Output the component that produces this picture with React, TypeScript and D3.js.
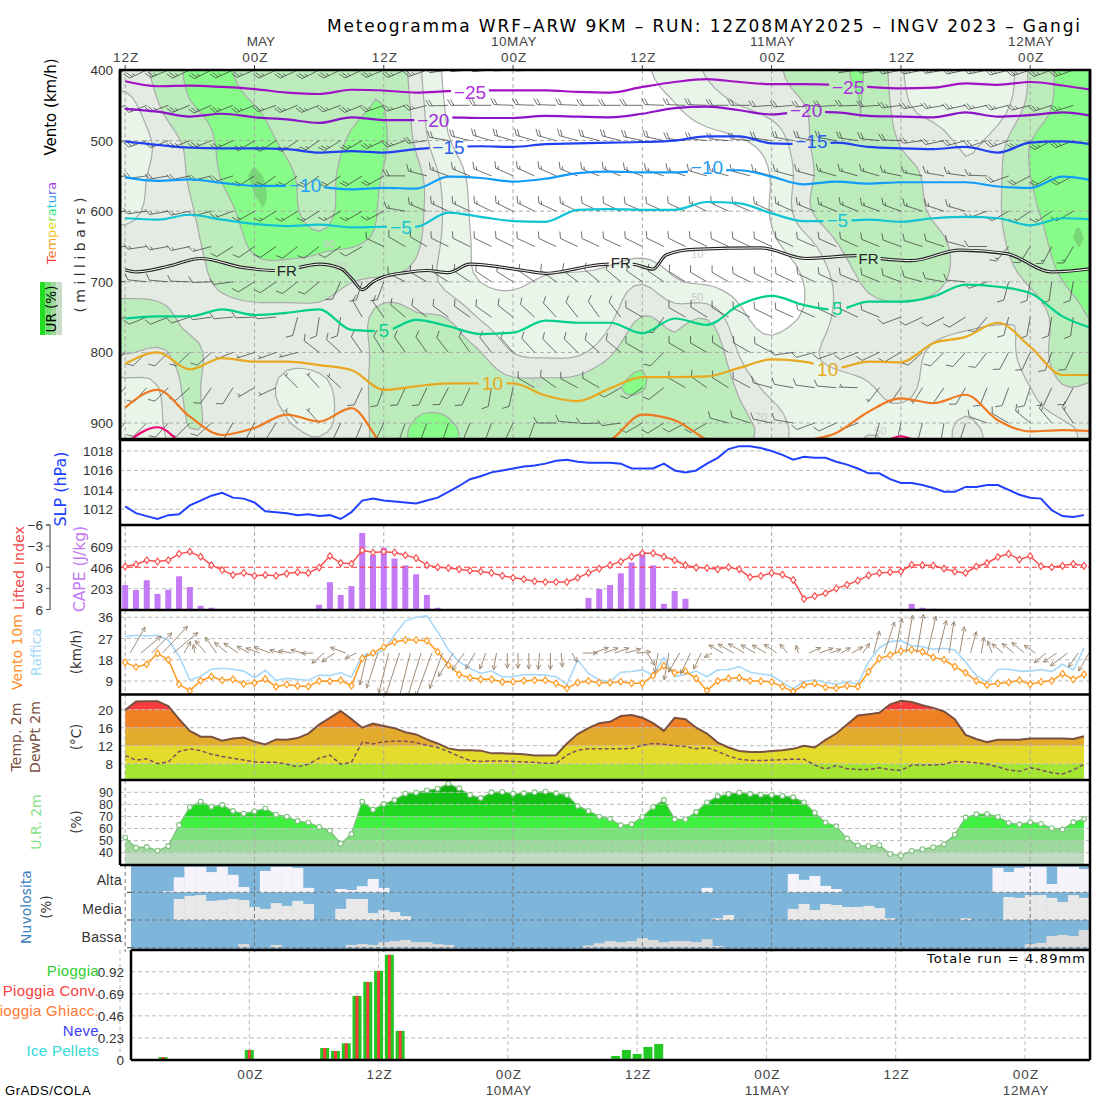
// App.tsx - WRF-ARW meteogram, Gangi
import React from 'react';
import * as d3 from 'd3';

const hours = d3.range(90);
const dayHours = [0, 12, 24, 36, 48, 60, 72, 84];
const topTickLabels = ['12Z', '00Z', '12Z', '00Z', '12Z', '00Z', '12Z', '00Z'];
const dateLabels: [number, string][] = [[36, '10MAY'], [60, '11MAY'], [84, '12MAY']];

// relative humidity cross section, one column every 3 hours
const rhTimes = d3.range(0, 93, 3);
const rhLevels = [400, 450, 500, 550, 600, 650, 700, 750, 800, 850, 900, 925];
const rhRows = [
  [58,70,96,94,75,78,78,65,94,55,20,20,20,20,20,20,28,40,55,72,60,78,86,94,45,40,38,25,72,95,95],
  [38,66,92,94,90,78,72,80,95,60,22,20,20,20,20,20,22,27,38,52,60,62,78,95,50,42,30,30,72,95,95],
  [35,50,68,95,96,84,70,95,96,62,25,22,22,25,32,32,30,26,24,24,35,65,80,94,58,62,45,58,96,96,94],
  [42,55,66,94,99,94,78,99,86,78,40,22,20,20,20,22,22,20,20,20,25,60,76,80,75,62,48,60,92,96,96],
  [42,55,62,80,99,94,75,99,85,74,45,20,18,18,20,20,20,20,20,20,28,70,80,80,78,60,56,62,86,97,95],
  [58,60,62,72,95,96,94,94,85,73,42,25,18,18,18,18,18,18,18,20,26,36,66,80,80,76,58,62,75,99,96],
  [55,55,58,72,80,76,76,60,58,62,38,25,25,35,35,38,58,26,20,20,20,26,52,72,78,72,60,60,68,92,95],
  [78,78,58,56,56,58,60,60,74,66,74,45,40,38,38,42,72,60,78,30,22,26,56,58,58,58,55,52,45,75,94],
  [72,62,76,58,58,55,58,58,72,68,72,72,42,42,40,58,94,60,95,42,32,50,58,60,58,45,42,42,58,76,80],
  [40,42,78,46,58,42,42,58,74,76,76,76,76,78,78,94,95,78,94,62,42,42,42,46,58,44,44,44,46,72,60],
  [45,42,75,58,58,52,42,58,72,95,94,76,76,74,76,76,74,76,76,74,60,42,42,48,44,44,55,44,44,44,58],
  [44,42,66,58,58,55,50,58,72,95,95,76,76,76,76,76,60,76,76,72,58,42,42,55,46,40,58,44,44,44,56],
];
const rhBands: [number, string][] = [[30, '#e9f5e9'], [50, '#e3ebe3'], [66, '#bcecbc'], [88, '#88fc88'], [96.5, '#78d878']];
const rhLabels: [number, number, string][] = [[18.9, 646, '90'], [20, 678, '70'], [53.1, 661, '10'], [53.1, 722, '50'], [38.1, 843, '70'], [59, 892, '70'], [70.1, 912, '50']];

// isotherms, hPa every 3 hours
const isoMinus25 = [416,423,422,424,427,432,434,428,429,432,430,429,429,429,431,432,424,417,413,417,420,420,421,424,426,425,419,421,417,422,429];
const isoMinus20 = [455,459,466,462,467,470,475,467,471,471,467,468,468,465,466,467,462,454,452,457,463,459,460,465,466,467,460,466,464,460,466];
const isoMinus15 = [501,506,510,511,511,512,517,515,517,512,509,508,509,505,504,503,502,500,494,494,504,505,503,509,511,512,509,517,503,501,506];
const isoMinus10 = [552,557,555,560,564,564,566,569,567,568,551,553,558,554,546,544,545,545,542,542,551,562,558,561,559,559,559,565,567,551,557];
const isoMinus5 = [610,612,605,612,618,621,619,623,622,622,602,608,614,615,598,597,598,598,587,589,603,614,614,612,615,610,608,610,620,610,612];
const isoPlus5 = [752,749,749,739,747,744,739,768,770,754,763,774,772,755,758,758,773,752,761,733,720,733,740,728,728,721,704,707,716,749,767];
const isoPlus10 = [816,800,824,808,813,813,818,825,853,848,844,844,844,861,869,851,835,835,834,822,810,813,822,813,814,787,778,758,792,832,832];
const isoPlus15 = [878,853,891,917,907,888,898,879,933,952,952,952,952,952,933,924,888,896,924,943,943,926,914,884,865,872,860,896,912,910,912];
const isoPlus20 = [930,906,940,960,960,960,960,960,960,960,960,960,960,960,960,960,960,960,960,960,960,960,960,940,919,940,960,960,960,960,960];
const frTimes = [0,1,4,7,11,14,16,18,20,21,22,23,24,26,28,30,32,37,39,42,43,45,47,49,50.2,52.8,59,63.2,67.8,70,73,77.5,81.8,86,90];
const frLevels = [683,686,678,667,680,684,680,675,681,695,711,700,693,687,684,687,675,684,688,681,678,675,675,682,662,654,652,667,663,667,670,655,660,686,681];

const isotherms: [number[], string][] = [
  [isoMinus25, '#a012c4'], [isoMinus20, '#8c14c8'], [isoMinus15, '#2040f0'], [isoMinus10, '#109cf8'], [isoMinus5, '#10c4d4'],
  [isoPlus5, '#00d08c'], [isoPlus10, '#e8a820'], [isoPlus15, '#f07820'], [isoPlus20, '#f00a78'],
];
const isoLabels: [number, number, string, string][] = [
  [32, 431, '−25', '#b030e0'], [67.1, 424, '−25', '#b030e0'], [28.6, 471, '−20', '#a030d8'], [63.2, 457, '−20', '#a030d8'],
  [30, 509, '−15', '#2860f0'], [63.7, 500, '−15', '#2860f0'], [16.7, 563, '−10', '#20a0f8'], [54, 538, '−10', '#20a0f8'],
  [25.6, 622, '−5', '#18c4d4'], [66.1, 613, '−5', '#18c4d4'], [24, 768, '5', '#10d090'], [66.1, 737, '5', '#10d090'],
  [34.1, 843, '10', '#e8a820'], [65.2, 824, '10', '#e8a820'], [15, 684, 'FR', '#222'], [46, 674, 'FR', '#222'], [69, 667, 'FR', '#222'],
];

// wind barbs: one column every 2 hours, direction in degrees, speed in half feathers
const barbTimes = d3.range(0, 90, 2);
const barbLevels = [400, 450, 500, 550, 600, 650, 700, 750, 800, 850, 900];
const barbDirs = [
  [245,245,247,245,243,245,247,245,245,243,245,245,247,247,250,262,265,265,267,267,268,270,270,270,272,270,270,268,268,270,272,272,270,268,262,260,258,258,260,258,258,255,252,250,250],
  [248,248,250,248,246,248,248,250,248,248,250,248,250,252,255,268,270,270,272,272,272,272,270,270,270,272,272,272,270,270,266,265,265,266,268,266,262,260,260,258,258,256,255,252,252],
  [250,250,248,248,248,245,238,236,235,235,238,240,245,250,262,280,284,286,286,286,285,285,284,284,282,282,276,276,275,275,278,280,280,280,278,276,272,262,258,255,252,250,245,242,248],
  [262,262,260,258,256,252,238,235,235,235,236,238,240,270,285,290,292,292,294,294,294,292,292,292,290,288,288,286,286,285,285,285,285,286,286,286,282,280,280,278,272,250,242,240,242],
  [262,262,260,258,255,250,240,238,238,238,240,240,242,280,292,295,295,296,296,296,295,295,295,295,294,294,295,295,295,294,294,294,292,292,292,290,290,288,288,286,250,240,235,235,240],
  [265,262,260,258,255,238,235,235,232,232,235,240,295,300,300,296,296,296,296,295,295,295,295,295,296,296,296,296,295,295,295,295,294,294,294,292,290,288,288,285,270,220,212,208,210],
  [278,276,275,272,268,262,238,235,232,230,205,198,200,296,300,302,304,304,302,305,306,308,310,310,305,304,302,300,300,296,296,295,295,294,292,292,290,285,280,275,250,195,190,188,190],
  [250,248,248,252,262,265,268,265,195,188,190,330,325,310,308,306,305,305,308,312,318,322,325,322,300,215,300,302,300,298,296,294,294,295,295,292,250,245,242,238,220,195,190,190,188],
  [228,226,225,225,228,248,252,250,255,308,312,325,328,325,325,322,325,322,320,318,315,315,312,310,300,225,300,300,302,300,298,262,255,250,248,245,240,228,225,222,218,208,205,200,205],
  [225,222,225,228,215,212,240,245,315,318,312,205,200,205,205,208,205,190,192,300,305,298,300,240,235,232,300,305,302,298,285,280,278,275,272,218,215,212,215,210,202,200,198,205,208],
  [225,225,222,225,228,210,208,212,315,318,205,202,205,200,200,198,202,200,205,200,270,275,268,262,240,238,242,240,285,288,282,280,250,245,248,195,192,195,190,198,290,300,310,320,325],
];
const barbSpeeds = [
  [5,5,5,5,5,5,5,5,5,5,5,5,5,5,5,5,5,5,5,5,5,5,5,5,5,5,5,5,5,5,5,5,5,5,5,5,5,5,5,5,5,5,5,5,5],
  [5,5,5,5,5,5,5,5,5,5,5,5,5,5,5,4,4,4,4,4,4,4,4,4,4,4,4,4,4,4,4,4,4,4,4,4,5,5,5,5,5,5,5,5,5],
  [5,5,5,5,5,5,5,5,5,5,5,5,5,5,4,4,4,4,4,4,4,4,4,4,4,4,4,4,4,4,4,4,4,4,4,4,4,4,4,4,4,5,5,5,5],
  [4,4,4,4,4,4,4,4,4,4,4,4,4,4,3,3,3,3,3,3,3,3,3,3,3,3,3,3,3,3,3,3,3,3,3,3,3,3,3,3,3,4,4,4,4],
  [3,3,3,3,3,3,3,3,3,3,3,3,3,3,3,3,3,3,3,3,3,3,2,2,2,2,2,3,3,3,3,3,3,3,3,3,3,3,3,3,3,3,3,3,3],
  [3,3,3,3,3,2,2,2,2,2,2,2,2,2,2,2,2,2,2,2,2,2,2,2,2,2,2,2,2,2,2,2,2,2,2,2,2,2,2,2,2,3,3,3,3],
  [2,2,2,2,2,2,2,2,2,2,2,2,2,2,2,2,2,2,2,2,2,2,2,2,2,2,2,2,2,2,2,2,2,2,2,2,2,2,2,2,2,2,2,2,2],
  [2,2,2,2,2,2,2,2,2,2,2,2,2,2,2,2,2,2,2,2,2,2,2,2,2,2,2,2,2,2,2,2,2,2,2,2,2,2,2,2,2,2,2,2,2],
  [2,2,2,2,2,1,1,1,1,2,2,2,2,2,2,2,2,2,2,2,2,2,2,2,2,2,2,2,2,2,2,2,2,2,2,2,2,2,2,2,2,2,2,2,2],
  [2,2,2,2,2,2,1,1,1,1,1,2,2,2,2,2,2,2,2,2,2,2,2,2,2,2,2,2,2,2,2,2,2,2,1,1,1,1,2,2,2,2,2,2,2],
  [2,2,2,2,2,2,2,2,1,1,2,2,2,2,2,2,2,2,2,2,2,2,2,2,2,2,2,2,2,2,2,2,2,2,1,2,2,2,2,2,2,2,3,3,3],
];

const slp = [1012.3,1011.6,1011.3,1011.0,1011.4,1011.5,1012.4,1012.9,1013.4,1013.7,1013.2,1013.1,1012.7,1011.8,1011.7,1011.6,1011.4,1011.5,1011.3,1011.4,1011.0,1011.7,1012.9,1013.1,1012.9,1012.8,1012.7,1012.6,1012.9,1013.2,1013.8,1014.4,1015.1,1015.4,1015.8,1016.0,1016.2,1016.4,1016.5,1016.7,
  1017.0,1017.1,1016.9,1016.8,1016.8,1016.8,1016.7,1016.2,1016.2,1016.2,1016.7,1016.0,1015.8,1016.0,1016.7,1017.3,1018.2,1018.5,1018.5,1018.3,1018.0,1017.6,1017.1,1017.4,1017.3,1017.3,1016.9,1016.6,1016.2,1015.7,1015.7,1015.1,1014.7,1014.7,1014.5,1014.2,1013.8,1013.8,1014.3,1014.3,1014.5,1014.5,1014.0,1013.5,1013.2,1013.1,1011.9,1011.3,1011.2,1011.4];
const liftedIndex = [-0.1,-0.4,-1.0,-0.8,-1.0,-1.9,-2.2,-1.5,-0.3,0.4,1.1,0.8,1.2,1.1,1.2,0.9,0.7,0.8,0.05,-1.6,-0.6,-0.5,-2.4,-2.1,-2.2,-2.1,-1.7,-1.3,-0.3,0,0.1,0.3,0.5,0.6,0.8,1.2,1.5,1.7,2.0,2.1,
  2.1,2.1,1.5,0.8,0.2,-0.3,-0.8,-1.5,-2.0,-2.0,-1.5,-1.0,-0.3,0.05,0.1,0.3,0,0.3,1.4,1.25,0.8,1.05,1.8,4.5,4.1,3.7,3.0,2.5,1.9,1.15,0.8,0.7,0.6,-0.35,-0.3,-0.25,0.2,0.6,0.8,-0.1,-0.6,-1.45,-1.9,-1.1,-1.6,-0.15,0,-0.2,-0.5,-0.2];
const cape = [238,190,285,152,193,323,219,38,19,0,0,0,0,0,0,0,0,0,48,266,143,228,742,529,599,494,428,342,143,19,0,0,0,0,0,0,0,0,0,0,
  0,0,10,114,200,238,352,457,561,428,57,181,105,0,0,0,0,0,0,0,0,0,0,0,0,0,0,0,0,0,0,0,0,57,19,10,0,0,0,0,0,0,0,0,0,0,0,0,0,0];
const wind10m = [16.9,14.9,16.1,20.7,18,7.6,4.8,9.1,10.9,9.3,9.7,7.7,8.2,9.8,6.6,7.5,6.9,6.7,9,8.9,9.3,7,18.6,20.9,23.4,25.5,26.4,26.4,26.1,21.4,15.8,11.8,10.4,9.7,9.7,8.6,8.7,9.1,9.3,9.3,
  8,5.9,8.3,9,8.3,8.3,8.7,8,8,11.3,15.5,12.5,13.1,10.1,4.9,9,10.1,10.4,9.1,8.9,8.6,6.6,4.5,7.3,8,6.3,5.9,7,6.6,12.9,18.5,20,21.7,22.2,21.4,19,18,15.1,12.5,9.1,7.3,8,8.4,9.3,7.6,8.6,9.1,12.1,9.7,11.8];
const gust = [27.8,28.4,28.1,28.4,26.3,19.6,9.4,10.9,14,14.4,14,13.2,10.4,13.5,9.3,10.1,9.7,9.3,11.5,11.3,12.5,10.7,20,20,22.1,28.5,34.4,36,36.6,29.9,22.1,17.1,14.3,12.2,13.2,10.8,10.8,11.7,11.7,11.5,
  10.8,7.6,17.9,12.2,9.4,8.7,12.7,13,13.7,11.5,18.9,10.8,11.8,13.2,10.8,13.7,13.9,15.1,12.7,12,11.3,8.4,5.6,8.9,9.4,8.4,7.6,8.7,7.6,17.2,23.1,25.7,26.1,24,23.5,22.4,22.9,22.1,17.2,11.3,8.7,14,14,13.2,13.2,13.9,13,16.1,13.7,22.9];
const windHeading = [30,50,45,43,50,30,350,320,325,310,305,300,290,290,285,280,285,268,230,236,290,245,193,198,194,198,194,197,200,200,213,215,210,200,190,180,180,180,185,180,
  175,150,90,70,70,70,75,85,150,190,190,210,205,205,240,300,300,300,300,300,305,320,345,65,70,70,60,60,35,15,18,11,10,10,13,14,9,10,15,10,340,310,310,310,305,230,235,233,215,210];
const temp2m = [19.9,21.8,21.9,21.9,20.8,17.9,15.3,14.0,14.0,13.1,13.6,13.8,12.9,12.3,13.4,13.3,13.7,14.7,16.7,18.2,19.7,17.9,16,16.9,16.4,15.9,15,14.5,13.4,12.5,11.4,11,11,10.9,10.3,10.3,10.2,10.1,9.8,9.8,
  9.9,12.5,14.6,15.9,17,17.3,18.6,18.8,18.2,17,15.3,18.2,17.9,16,14.7,12.7,11.6,10.8,10.6,10.6,10.8,11,11.3,12,11.6,13.3,14.7,16.7,18.7,19,19.3,21.2,22,21.7,21,20.4,19.6,17.9,14.4,13.5,12.8,13.3,13.3,13.3,13.6,13.6,13.6,13.6,13.5,14.1];
const dewPoint = [9.8,8.8,9.1,8,8.4,10.7,11.3,10.9,10.1,9.6,9.2,8.8,8.4,8.3,8.3,7.9,7.3,7.9,9.2,9.9,7.9,8.3,12.8,12.4,12.9,13,13,12.7,12.1,11.6,10.7,9.6,8.7,8.5,8.6,8.6,8.5,8.4,8.3,8.1,
  8.1,9.9,11,11.3,11.3,11.3,11.3,11.4,12.1,12.5,12.3,12,11.8,11.3,11.6,10.7,9.7,9,8.7,8.7,8.8,8.9,9,9,7.7,6.8,7.6,6.9,6.7,6.7,7.1,6.7,6.5,7.7,7.7,7.7,7.9,8.5,8.4,8.2,7.9,7.3,6.6,6.3,7.1,6.6,6,5.7,6.6,7.9];
const rh2m = [52.7,44.1,44.7,41.7,45.5,62.9,77.8,82.3,78.1,79.5,74.5,72.3,74.2,76.7,71.5,69.8,66.2,64.9,61.3,58.2,47.5,55.5,82.3,75.6,80.3,83.6,88.9,89.7,91.6,93,97.2,93.3,87.8,85.3,90,90.3,88.9,89.2,90,90.6,
  89.2,87.8,78.7,74.6,69.9,68,62.7,63.5,69.6,77.9,83.6,67.6,67.6,73.7,81.7,86.7,88.6,89.7,88.6,88,87.8,87,85.9,81.7,73.1,64.9,61.9,51.7,45.9,45.4,46.2,39,37.6,41.5,42.9,44.5,47,55,69.1,71.8,72.1,69.6,64.7,63.3,65.2,63.9,60.3,59.2,65.2,67.9];

const tempBands: [number, number, string][] = [[0, 8, '#a4e632'], [8, 12, '#e4dc2c'], [12, 16, '#e4ac2c'], [16, 20, '#f08024'], [20, 30, '#fa3c3c']];
const rhFillBands: [number, number, string][] = [[30, 40, '#c0dcc0'], [40, 50, '#9fd89f'], [50, 60, '#7be27b'], [60, 70, '#40f040'], [70, 80, '#20d820'], [80, 90, '#14c014'], [90, 100, '#0fae0f']];

// clouds, percent per hour
const altaHours = [4,5,6,7,8,9,10,11,13,14,15,16,17,20,21,22,23,24,54,62,63,64,65,66,81,82,83,84,85,86,87,88,89];
const altaCloud = [4,54,92,92,73,92,63,19,77,92,92,88,16,12,8,22,48,16,16,66,45,59,23,12,88,73,88,92,92,30,92,92,84];
const mediaHours = [5,6,7,8,9,10,11,12,13,14,15,16,17,20,21,22,23,24,25,26,55,56,62,63,64,65,66,67,68,69,70,71,78,82,83,84,85,86,87,88,89];
const mediaCloud = [76,87,90,69,72,76,72,47,40,61,51,69,58,40,76,76,25,36,29,14,6,18,40,58,36,58,54,47,47,51,43,6,6,83,80,90,90,80,65,90,80];
const bassaHours = [11,14,21,22,23,24,25,26,27,28,29,30,43,44,45,46,47,48,49,50,51,52,53,54,55,84,85,86,87,88,89];
const bassaCloud = [13,10,10,13,10,20,24,28,20,20,13,10,8,16,24,20,24,35,28,20,24,24,20,31,6,13,17,42,46,42,64];

// rain, mm per hour
const rainHours = [4,11,12,18,19,20,21,22,23,24,25,26,46,47,48,49,50,84];
const rainTotal = [0.03,0,0.105,0,0.125,0.094,0.174,0.668,0.814,0.929,1.096,0.303,0.042,0.104,0.063,0.136,0.167,0];
const rainConv = [0.03,0.01,0.105,0.01,0.125,0.094,0.174,0.668,0.814,0.929,1.096,0.303,0,0,0,0.01,0,0.01];

const MONO = 'Liberation Sans';
const WIDE = 'DejaVu Sans';
const left = 120;
const right = 1090;

const x = d3.scaleLinear().domain([0, 84]).range([125.2, 1030.2]);
const xRain = d3.scaleLinear().domain([0, 84]).range([120, 1025]);
const yP = d3.scaleLinear().domain([400, 900]).range([70, 423]);
const ySlp = d3.scaleLinear().domain([1012, 1018]).range([509.3, 451]);
const yLi = d3.scaleLinear().domain([-6, 6]).range([525, 609.5]);
const yCape = d3.scaleLinear().domain([0, 609]).range([609.7, 546.7]);
const yWind = d3.scaleLinear().domain([9, 36]).range([681, 617.3]);
const yTemp = d3.scaleLinear().domain([8, 20]).range([763.7, 709.7]);
const yRh = d3.scaleLinear().domain([40, 90]).range([852.7, 792.3]);
const yRain = d3.scaleLinear().domain([0, 0.92]).range([1060, 971.7]);

const Vtext = ({ x: tx, y, size = 15, fill = '#222', family = WIDE, children }: any) => (
  <text transform={`translate(${tx},${y}) rotate(-90)`} textAnchor="middle" fontSize={size} fill={fill} fontFamily={family}>{children}</text>
);

const HGrid = ({ ys, x0 = left, color = '#bbb' }: any) => (
  <g stroke={color} strokeWidth={1} strokeDasharray="4 3">
    {ys.map((y: number) => <line key={y} x1={x0} x2={right} y1={y} y2={y} />)}
  </g>
);

const VGrid = ({ y0, y1, scale = x, color = '#aaa' }: any) => (
  <g stroke={color} strokeWidth={1} strokeDasharray="4 3">
    {dayHours.map((t) => <line key={t} x1={scale(t)} x2={scale(t)} y1={y0} y2={y1} />)}
  </g>
);

const Barb = ({ t, p, dir, speed }: any) => {
  const px = x(t);
  const py = yP(p);
  const rad = (dir * Math.PI) / 180;
  const feather = ((dir + 60) * Math.PI) / 180;
  const ex = px + Math.sin(rad) * 19;
  const ey = py - Math.cos(rad) * 19;
  let d = `M${px},${py}L${ex},${ey}`;
  let along = 0;
  for (let i = 0; i < Math.floor(speed / 2); i++, along += 3) {
    const bx = ex - Math.sin(rad) * along;
    const by = ey + Math.cos(rad) * along;
    d += `M${bx},${by}l${Math.sin(feather) * 7},${-Math.cos(feather) * 7}`;
  }
  if (speed % 2) {
    const bx = ex - Math.sin(rad) * (along + (along ? 0 : 3));
    const by = ey + Math.cos(rad) * (along + (along ? 0 : 3));
    d += `M${bx},${by}l${Math.sin(feather) * 3.5},${-Math.cos(feather) * 3.5}`;
  }
  return <path d={d} />;
};

const Arrow = ({ t, heading, speed }: any) => {
  const x0 = x(t) + 5;
  const y0 = 653;
  const len = speed * 1.77;
  const rad = (heading * Math.PI) / 180;
  const x1 = x0 + Math.sin(rad) * len;
  const y1 = y0 - Math.cos(rad) * len;
  const wing = (a: number) => `M${x1},${y1}l${-Math.sin(rad + a) * 5},${Math.cos(rad + a) * 5}`;
  return <path d={`M${x0},${y0}L${x1},${y1}${wing(0.45)}${wing(-0.45)}`} />;
};

const CloudBars = ({ hrs, vals, base, fill }: any) => (
  <g fill={fill}>
    {hrs.map((t: number, i: number) => {
      const h = (vals[i] * 27.7) / 100;
      return <rect key={t} x={x(t - 0.5)} y={base - h} width={x(1) - x(0) + 0.3} height={h} />;
    })}
  </g>
);

// finer copy of the humidity grid, only so the contour edges come out round
const FINE = 4;
function fineGrid() {
  const cols = rhTimes.length;
  const rows = rhLevels.length;
  const nx = (cols - 1) * FINE + 1;
  const ny = (rows - 1) * FINE + 1;
  const data = new Float64Array(nx * ny);
  for (let j = 0; j < ny; j++) {
    const r = Math.min(Math.floor(j / FINE), rows - 2);
    const v = j / FINE - r;
    for (let i = 0; i < nx; i++) {
      const c = Math.min(Math.floor(i / FINE), cols - 2);
      const u = i / FINE - c;
      data[j * nx + i] = (1 - v) * ((1 - u) * rhRows[r][c] + u * rhRows[r][c + 1]) + v * ((1 - u) * rhRows[r + 1][c] + u * rhRows[r + 1][c + 1]);
    }
  }
  d3.blur2({ data, width: nx, height: ny }, 1);
  return { data, nx, ny };
}

export default function App() {
  const rowToP = d3.scaleLinear().domain(d3.range(rhLevels.length)).range(rhLevels);
  const colToT = d3.scaleLinear().domain([0, rhTimes.length - 1]).range([rhTimes[0], rhTimes[rhTimes.length - 1]]);
  const gridPath = d3.geoPath(d3.geoTransform({
    point(gx: number, gy: number) {
      const col = (gx - 0.5) / FINE;
      const row = (gy - 0.5) / FINE;
      (this as any).stream.point(col < 0 ? x(-6) : x(colToT(col)), row < 0 ? yP(380) : yP(rowToP(row)));
    },
  }));
  const fine = fineGrid();
  const contourGen = d3.contours().size([fine.nx, fine.ny]);
  const rhShapes = rhBands.map(([level, color]) => ({ level, color, d: gridPath(contourGen.contour(fine.data as any, level)) || '' }));

  const isoLine = d3.line<number>().x((_, i) => x(rhTimes[i])).y((p) => yP(p)).curve(d3.curveMonotoneX);
  const frLine = d3.line<number>().x((_, i) => x(frTimes[i])).y((p) => yP(p)).curve(d3.curveMonotoneX);

  const hourLine = (values: number[], scale: any) => d3.line<number>().x((t) => x(t)).y((t) => scale(values[t]))(hours) || '';
  const hourArea = (values: number[], scale: any, y0: number) => d3.area<number>().x((t) => x(t)).y0(y0).y1((t) => scale(values[t]))(hours) || '';
  const diamond = d3.symbol().type(d3.symbolDiamond).size(20)() || '';

  const tempWord = ['#f04040', '#f87030', '#f8a020', '#f0c820', '#d8e020', '#80e040', '#30e080', '#20d0d0', '#30a0f0', '#6060f0', '#a040e0'];

  return (
    <svg width={1100} height={1100} style={{ position: 'absolute', left: 0, top: 0, background: '#fff' }}>
      <defs>
        <clipPath id="topClip"><rect x={left} y={70} width={right - left} height={369} /></clipPath>
        <clipPath id="windClip"><rect x={left} y={610} width={right - left} height={84} /></clipPath>
        <clipPath id="cloudClip"><rect x={131} y={865} width={right - 131} height={84} /></clipPath>
        <clipPath id="tempClip"><path d={hourArea(temp2m, yTemp, 779)} /></clipPath>
        <clipPath id="rhClip"><path d={hourArea(rh2m, yRh, 865)} /></clipPath>
        <mask id="isoGap" maskUnits="userSpaceOnUse" x={left} y={70} width={right - left} height={369}>
          <rect x={left} y={70} width={right - left} height={369} fill="#fff" />
          {isoLabels.map(([t, p, label], i) => {
            const w = label === 'FR' ? 24 : label.length * 10 + 8;
            return <rect key={i} x={x(t) - w / 2} y={yP(p) - 10} width={w} height={20} fill="#000" />;
          })}
        </mask>
      </defs>

      <text x={327} y={32} fontSize={17} fontFamily={WIDE} fill="#000" textLength={753} lengthAdjust="spacing">Meteogramma WRF–ARW 9KM – RUN: 12Z08MAY2025 – INGV 2023 – Gangi</text>

      {dayHours.map((t, i) => (
        <g key={t}>
          <line x1={x(t)} x2={x(t)} y1={65} y2={70} stroke="#444" />
          <text x={x(t) + 1} y={62} textAnchor="middle" fontSize={13.5} fill="#444" fontFamily={MONO} letterSpacing={1}>{topTickLabels[i]}</text>
          {t > 0 && <text x={xRain(t) + 1} y={1079} textAnchor="middle" fontSize={13.5} fill="#444" fontFamily={MONO} letterSpacing={1}>{topTickLabels[i]}</text>}
        </g>
      ))}
      <text x={261} y={46} textAnchor="middle" fontSize={13.5} fill="#444" fontFamily={MONO}>MAY</text>
      {dateLabels.map(([t, label]) => (
        <g key={label}>
          <text x={x(t) + 1} y={46} textAnchor="middle" fontSize={13.5} fill="#444" fontFamily={MONO} letterSpacing={0.6}>{label}</text>
          <text x={xRain(t) + 1} y={1095} textAnchor="middle" fontSize={13.5} fill="#444" fontFamily={MONO} letterSpacing={0.6}>{label}</text>
        </g>
      ))}

      {/* humidity, temperature and wind cross section */}
      <g clipPath="url(#topClip)">
        {rhShapes.map((s) => <path key={s.level} d={s.d} fill={s.color} />)}
        {rhShapes.filter((s) => s.level < 96).map((s) => <path key={s.level} d={s.d} fill="none" stroke="#aaa" strokeWidth={1.2} />)}
        {rhLabels.map(([t, p, label], i) => <text key={i} x={x(t)} y={yP(p) + 4} textAnchor="middle" fontSize={11} fill="#ccc" fontFamily={MONO}>{label}</text>)}
        <HGrid ys={[500, 600, 700, 800, 900].map((p) => yP(p))} color="#aaa" />
        <VGrid y0={70} y1={439} />
        <g stroke="#333" strokeWidth={0.7} fill="none">
          {barbLevels.map((p, r) => barbTimes.map((t, c) => (
            <Barb key={`${p}-${t}`} t={t} p={p} dir={barbDirs[r][c]} speed={barbSpeeds[r][c]} />
          )))}
        </g>
        <g mask="url(#isoGap)" fill="none">
          {isotherms.map(([values, color]) => <path key={color} d={isoLine(values) || ''} stroke={color} strokeWidth={2.2} />)}
          <path d={frLine(frLevels) || ''} stroke="#222" strokeWidth={3.2} />
          <path d={frLine(frLevels) || ''} stroke="#fff" strokeWidth={1} />
        </g>
        {isoLabels.map(([t, p, label, color], i) => (
          <text key={i} x={x(t)} y={yP(p) + (label === 'FR' ? 5 : 7)} textAnchor="middle" fontSize={label === 'FR' ? 15 : 19} fill={color} fontFamily={MONO}>{label}</text>
        ))}
      </g>
      {[400, 500, 600, 700, 800, 900].map((p) => (
        <text key={p} x={113} y={yP(p) + 5} textAnchor="end" fontSize={13.5} fill="#333" fontFamily={MONO}>{p}</text>
      ))}

      {/* sea level pressure */}
      <HGrid ys={[1012, 1014, 1016, 1018].map((v) => ySlp(v))} />
      <path d={hourLine(slp, ySlp)} fill="none" stroke="#2040ff" strokeWidth={2} />
      {[1012, 1014, 1016, 1018].map((v) => (
        <text key={v} x={113} y={ySlp(v) + 5} textAnchor="end" fontSize={13.5} fill="#333" fontFamily={MONO}>{v}</text>
      ))}

      {/* lifted index and CAPE */}
      <HGrid ys={[203, 609].map((v) => yCape(v))} />
      <VGrid y0={525} y1={610} />
      <g fill="#c479f5">
        {hours.filter((t) => cape[t] > 0).map((t) => (
          <rect key={t} x={x(t) - 3} y={yCape(cape[t])} width={6} height={yCape(0) - yCape(cape[t])} />
        ))}
      </g>
      <line x1={left} x2={right} y1={yLi(0)} y2={yLi(0)} stroke="#ff3030" strokeWidth={1.2} strokeDasharray="5 3" />
      <path d={hourLine(liftedIndex, yLi)} fill="none" stroke="#f85050" strokeWidth={1.5} />
      {hours.map((t) => (
        <path key={t} d={diamond} transform={`translate(${x(t)},${yLi(liftedIndex[t])}) scale(1.05,0.8)`} fill="#fff" stroke="#f85050" strokeWidth={1.2} />
      ))}
      {[203, 406, 609].map((v) => (
        <text key={v} x={113} y={yCape(v) + 5} textAnchor="end" fontSize={13.5} fill="#333" fontFamily={MONO}>{v}</text>
      ))}
      <path d="M46,525H50V609.5H46" fill="none" stroke="#555" strokeWidth={1.2} />
      {[-6, -3, 0, 3, 6].map((v) => (
        <g key={v}>
          <line x1={46} x2={50} y1={yLi(v)} y2={yLi(v)} stroke="#555" />
          <text x={43} y={yLi(v) + 5} textAnchor="end" fontSize={13.5} fill="#333" fontFamily={MONO}>{v < 0 ? `−${-v}` : v}</text>
        </g>
      ))}

      {/* 10m wind and gust */}
      <HGrid ys={[9, 18, 27, 36].map((v) => yWind(v))} />
      <VGrid y0={610} y1={694} />
      <g clipPath="url(#windClip)">
        <path d={hourLine(gust, yWind)} fill="none" stroke="#a8d8f8" strokeWidth={1.6} />
        <path d={hourLine(wind10m, yWind)} fill="none" stroke="#ff9a20" strokeWidth={1.5} />
        {hours.map((t) => (
          <path key={t} d={diamond} transform={`translate(${x(t)},${yWind(wind10m[t])}) scale(1.05,0.8)`} fill="#fff" stroke="#ff9a20" strokeWidth={1.2} />
        ))}
        <g stroke="#a08c78" strokeWidth={1} fill="none">
          {hours.map((t) => <Arrow key={t} t={t} heading={windHeading[t]} speed={wind10m[t]} />)}
        </g>
      </g>
      {[9, 18, 27, 36].map((v) => (
        <text key={v} x={113} y={yWind(v) + 5} textAnchor="end" fontSize={13.5} fill="#333" fontFamily={MONO}>{v}</text>
      ))}

      {/* 2m temperature and dew point */}
      <g clipPath="url(#tempClip)">
        {tempBands.map(([a, b, color]) => (
          <rect key={a} x={left} y={yTemp(b)} width={right - left} height={yTemp(a) - yTemp(b)} fill={color} />
        ))}
      </g>
      <HGrid ys={[8, 12, 16, 20].map((v) => yTemp(v))} />
      <VGrid y0={694} y1={780} />
      <path d={hourLine(temp2m, yTemp)} fill="none" stroke="#7a5040" strokeWidth={2} />
      <path d={hourLine(dewPoint, yTemp)} fill="none" stroke="#7a5060" strokeWidth={1.5} strokeDasharray="4 2.5" />
      {[8, 12, 16, 20].map((v) => (
        <text key={v} x={113} y={yTemp(v) + 5} textAnchor="end" fontSize={13.5} fill="#333" fontFamily={MONO}>{v}</text>
      ))}

      {/* 2m humidity */}
      <g clipPath="url(#rhClip)">
        {rhFillBands.map(([a, b, color]) => (
          <rect key={a} x={left} y={yRh(b)} width={right - left} height={yRh(a) - yRh(b)} fill={color} />
        ))}
      </g>
      <HGrid ys={[40, 50, 60, 70, 80, 90].map((v) => yRh(v))} />
      <VGrid y0={780} y1={865} />
      <path d={hourLine(rh2m, yRh)} fill="none" stroke="#7cc07c" strokeWidth={1.3} />
      {hours.map((t) => <circle key={t} cx={x(t)} cy={yRh(rh2m[t])} r={2.4} fill="#fff" stroke="#7cc07c" strokeWidth={1.1} />)}
      {[40, 50, 60, 70, 80, 90].map((v) => (
        <text key={v} x={113} y={yRh(v) + 4.5} textAnchor="end" fontSize={12.5} fill="#333" fontFamily={MONO}>{v}</text>
      ))}

      {/* clouds */}
      <rect x={131} y={865} width={right - 131} height={84} fill="#7eb6db" />
      <g clipPath="url(#cloudClip)">
        <CloudBars hrs={altaHours} vals={altaCloud} base={892.3} fill="#f7f3fb" />
        <CloudBars hrs={mediaHours} vals={mediaCloud} base={920} fill="#e8e8e8" />
        <CloudBars hrs={bassaHours} vals={bassaCloud} base={947.7} fill="#dcdcdc" />
      </g>
      <HGrid ys={[892.3, 920, 947.7]} x0={131} color="#777" />
      <VGrid y0={865} y1={952} color="#777" />
      {[892.3, 920, 947.7].map((y) => <line key={y} x1={127} x2={131} y1={y} y2={y} stroke="#333" />)}
      <g fontSize={14} fill="#333" fontFamily={MONO} textAnchor="end" letterSpacing={0.3}>
        <text x={122} y={885}>Alta</text>
        <text x={122} y={914}>Media</text>
        <text x={122} y={942}>Bassa</text>
      </g>

      {/* precipitation */}
      <HGrid ys={[0.23, 0.46, 0.69, 0.92].map((v) => yRain(v))} x0={131} />
      <VGrid y0={950} y1={1060} scale={xRain} color="#bbb" />
      {rainHours.map((t, i) => (
        <g key={t}>
          {rainTotal[i] > 0 && <rect x={xRain(t) - 4.5} y={yRain(rainTotal[i])} width={9} height={1060 - yRain(rainTotal[i])} fill="#22c822" />}
          {rainConv[i] > 0 && <rect x={xRain(t) - 1.5} y={yRain(rainConv[i])} width={3} height={1060 - yRain(rainConv[i])} fill="#fa3c3c" />}
        </g>
      ))}
      {[0, 0.23, 0.46, 0.69, 0.92].map((v) => (
        <text key={v} x={124} y={yRain(v) + 5} textAnchor="end" fontSize={13.5} fill="#333" fontFamily={MONO}>{v}</text>
      ))}
      <text x={927} y={963} fontSize={13} fill="#000" fontFamily={WIDE} textLength={158} lengthAdjust="spacing">Totale run = 4.89mm</text>

      <g fontSize={15} fontFamily={MONO} textAnchor="end" letterSpacing={0.3}>
        <text x={99} y={976} fill="#30d030">Pioggia</text>
        <text x={99} y={996} fill="#fa4040">Pioggia  Conv.</text>
        <text x={99} y={1016} fill="#ff7830">Pioggia  Ghiacc.</text>
        <text x={99} y={1036} fill="#4040f8">Neve</text>
        <text x={99} y={1056} fill="#30d8d8">Ice  Pellets</text>
      </g>

      {/* panel borders */}
      <g fill="none" stroke="#000" strokeWidth={2.5}>
        <rect x={left} y={70} width={right - left} height={369} />
        <line x1={left} x2={right} y1={440} y2={440} />
        <line x1={left} x2={right} y1={525} y2={525} />
        <line x1={left} x2={right} y1={610} y2={610} />
        <line x1={left} x2={right} y1={694.5} y2={694.5} />
        <line x1={left} x2={right} y1={780} y2={780} />
        <line x1={left} x2={right} y1={865} y2={865} />
        <line x1={131} x2={right} y1={950} y2={950} />
        <line x1={131} x2={right} y1={1060} y2={1060} />
        <line x1={left} x2={left} y1={70} y2={865} />
        <line x1={right} x2={right} y1={70} y2={1060} />
        <line x1={131} x2={131} y1={950} y2={1060} />
      </g>

      {/* left side titles */}
      <Vtext x={56} y={107} fill="#000">Vento (km/h)</Vtext>
      <text transform="translate(56,223) rotate(-90)" textAnchor="middle" fontSize={13} fontFamily={WIDE}>
        {'Temperatura'.split('').map((ch, i) => <tspan key={i} fill={tempWord[i]}>{ch}</tspan>)}
      </text>
      <g>
        {['#22dd22', '#6fe06f', '#a0d8a0', '#c8dec8'].map((c, i) => <rect key={c} x={40 + i * 5.5} y={282} width={5.5} height={53} fill={c} />)}
      </g>
      <Vtext x={56} y={309} size={13.5} fill="#000">UR (%)</Vtext>
      <Vtext x={85} y={255} size={14} fill="#333">( m i l l i b a r s )</Vtext>
      <Vtext x={66} y={489} size={16} fill="#2040ff">SLP (hPa)</Vtext>
      <Vtext x={24} y={568} size={14.3} fill="#f04848">Lifted Index</Vtext>
      <Vtext x={85} y={569} size={15.5} fill="#c479f5">CAPE (J/kg)</Vtext>
      <Vtext x={22} y={652} size={14} fill="#ff8c1e">Vento 10m</Vtext>
      <Vtext x={41} y={652} size={14} fill="#a8d8f8">Raffica</Vtext>
      <Vtext x={81} y={652} size={13.5} fill="#333">(km/h)</Vtext>
      <Vtext x={21} y={737} size={14} fill="#7a5040">Temp. 2m</Vtext>
      <Vtext x={40} y={737} size={14} fill="#7a5040">DewPt 2m</Vtext>
      <Vtext x={81} y={737} size={13.5} fill="#333">(°C)</Vtext>
      <Vtext x={41} y={822} size={14} fill="#88e088">U.R. 2m</Vtext>
      <Vtext x={81} y={822} size={13.5} fill="#333">(%)</Vtext>
      <Vtext x={31} y={907} size={14} fill="#3a80c0">Nuvolosita</Vtext>
      <Vtext x={51} y={907} size={13.5} fill="#333">(%)</Vtext>

      <text x={5} y={1095} fontSize={13} fill="#000" fontFamily={MONO} letterSpacing={0.6}>GrADS/COLA</text>
    </svg>
  );
}
